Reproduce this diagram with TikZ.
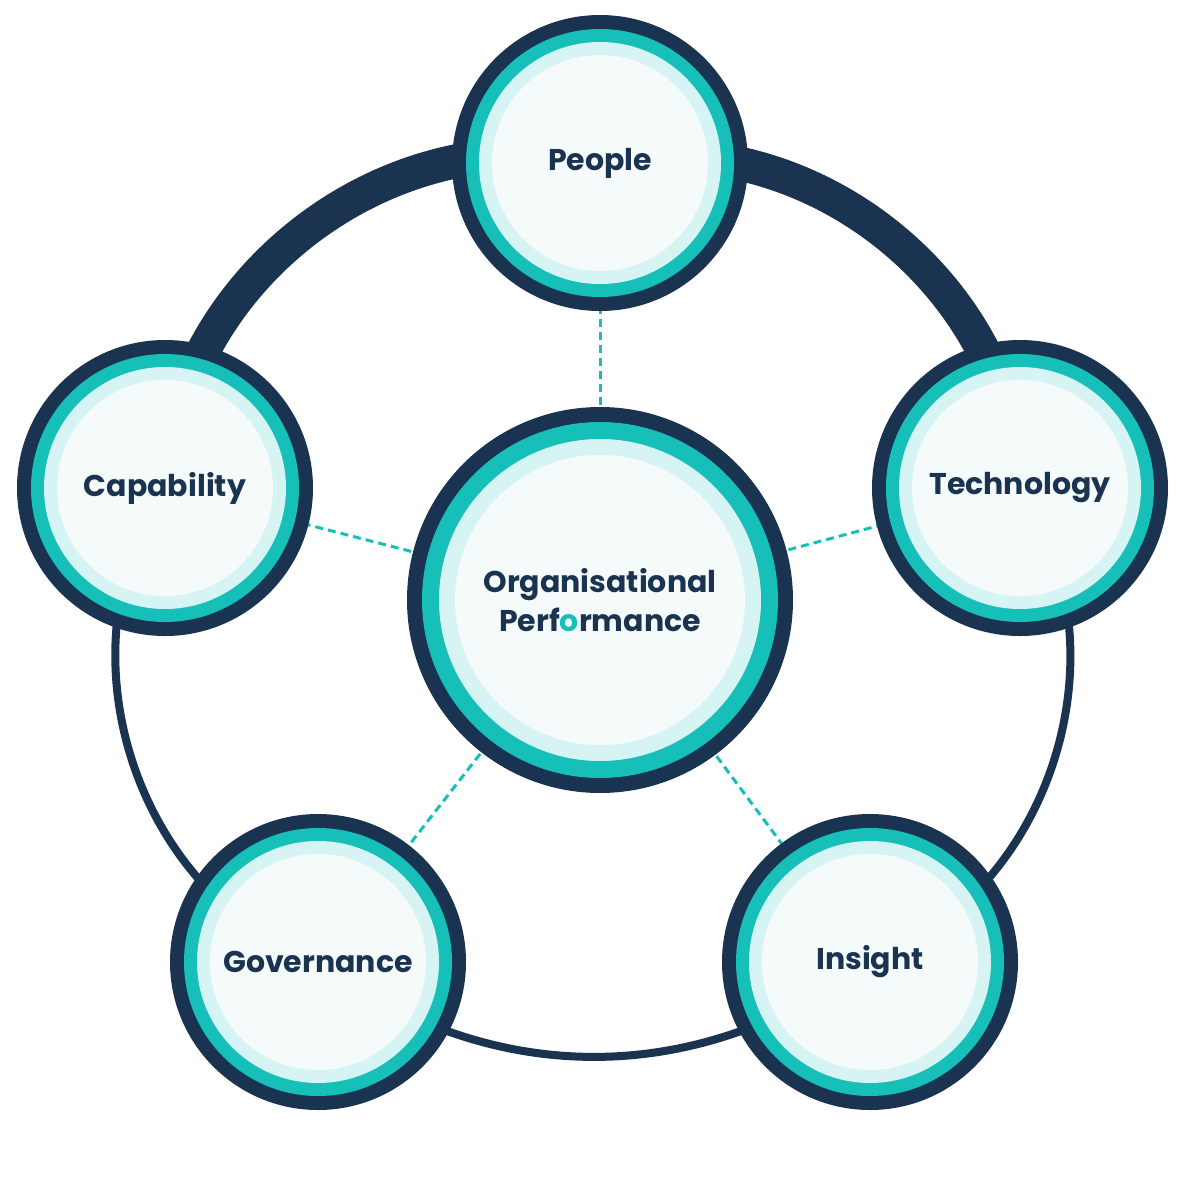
\documentclass[tikz,border=0pt]{standalone}
\usepackage{fontspec}
\setmainfont{Poppins}[BoldFont=* Bold]
\definecolor{navy}{HTML}{1A3350}
\definecolor{teal}{HTML}{17BFB9}
\definecolor{pale}{HTML}{D6F4F3}
\definecolor{core}{HTML}{F5FBFB}
\begin{document}
\begin{tikzpicture}[x=1pt,y=-1pt,
  lbl/.style={font=\bfseries\fontsize{30}{33}\selectfont, text=navy},
  spoke/.style={teal, line width=3pt, dash pattern=on 8pt off 5pt},
  thick ring/.style={navy, line width=34pt},
  thin ring/.style={navy, line width=8pt}]
\useasboundingbox (0,0) rectangle (1200,1200);
\coordinate (P) at (600,163);
\coordinate (T) at (1020,488);
\coordinate (I) at (870,962);
\coordinate (G) at (318,962);
\coordinate (C) at (165,488);
\coordinate (O) at (600,600);
% outer ring
\draw[thick ring] (C) to[bend left=50] (P);
\draw[thick ring] (P) to[bend left=50] (T);
\draw[thin ring] (T) to[bend left=52] (I);
\draw[thin ring] (I) to[bend left=36] (G);
\draw[thin ring] (G) to[bend left=52] (C);
% dashed spokes
\foreach \s in {P,T,I,G,C} \draw[spoke] (O) -- (\s);
% satellites
\foreach \s in {P,T,I,G,C}{
  \fill[navy] (\s) circle (148);
  \fill[teal] (\s) circle (134);
  \fill[pale] (\s) circle (121);
  \fill[core] (\s) circle (108);
}
\fill[navy] (O) circle (193);
\fill[teal] (O) circle (178);
\fill[pale] (O) circle (161);
\fill[core] (O) circle (145);
\node[lbl] (people) at (P) {People};
\node[lbl] (tech) at (T) {Technology};
\node[lbl] (ins) at (I) {Insight};
\node[lbl] (gov) at (G) {Governance};
\node[lbl] (cap) at (C) {Capability};
\node[lbl, align=center, font=\bfseries\fontsize{30}{39}\selectfont] (org) at (O) {Organisational\\Perf{\color{teal}o}rmance};
\end{tikzpicture}
\end{document}
